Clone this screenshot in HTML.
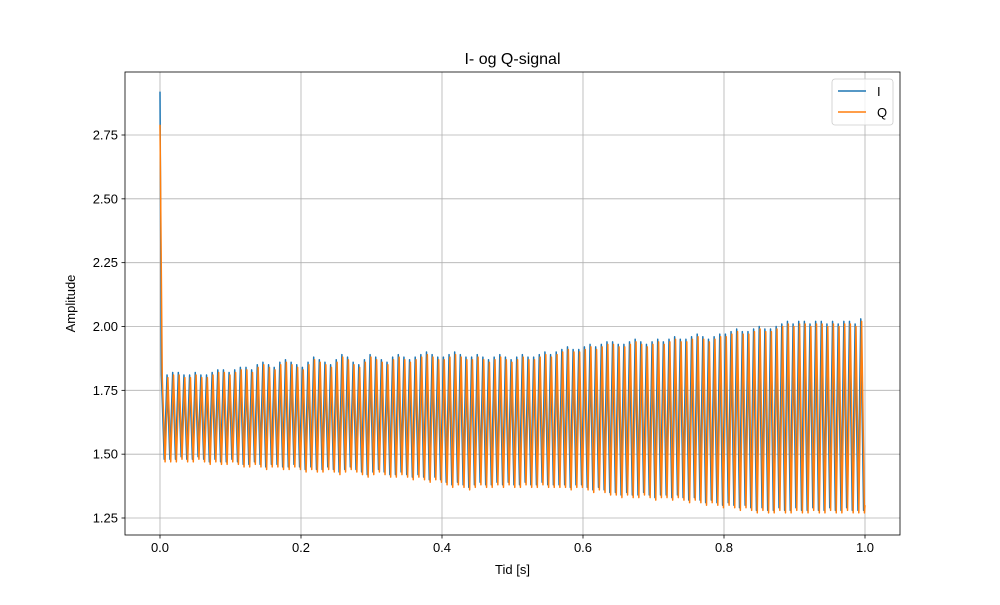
<!DOCTYPE html>
<html><head><meta charset="utf-8"><style>
body{margin:0;background:#fff;font-family:"Liberation Sans","DejaVu Sans",sans-serif}
svg text{font-family:"Liberation Sans","DejaVu Sans",sans-serif}
</style></head><body>
<svg id="chart" width="1000" height="600" xmlns="http://www.w3.org/2000/svg">
<rect width="1000" height="600" fill="#fff"/>
<g id="grid"></g><g id="series"></g><g id="axes"></g>
</svg>
<script>
const xTicks=[0,0.2,0.4,0.6,0.8,1.0];
const xTickLabels=["0.0","0.2","0.4","0.6","0.8","1.0"];
const yTicks=[1.25,1.5,1.75,2.0,2.25,2.5,2.75];
const yTickLabels=["1.25","1.50","1.75","2.00","2.25","2.50","2.75"];
const spikeStart=[2.92,2.79];
const endValue=[1.28,1.30];
const iPeak=[1.81,1.81,1.82,1.82,1.81,1.81,1.82,1.81,1.81,1.82,1.83,1.83,1.82,1.83,1.84,1.84,1.83,1.85,1.86,1.85,1.84,1.86,1.87,1.86,1.85,1.84,1.86,1.88,1.87,1.86,1.85,1.87,1.89,1.88,1.86,1.85,1.87,1.89,1.88,1.87,1.86,1.88,1.89,1.88,1.87,1.88,1.89,1.90,1.89,1.88,1.88,1.89,1.90,1.89,1.88,1.88,1.89,1.88,1.87,1.88,1.89,1.88,1.87,1.88,1.89,1.88,1.88,1.89,1.90,1.89,1.90,1.91,1.92,1.91,1.91,1.92,1.93,1.92,1.93,1.94,1.94,1.93,1.93,1.94,1.95,1.94,1.93,1.94,1.95,1.94,1.95,1.96,1.95,1.95,1.96,1.97,1.96,1.95,1.96,1.97,1.97,1.98,1.99,1.98,1.98,1.99,2.00,1.99,1.99,2.00,2.01,2.02,2.01,2.02,2.02,2.01,2.02,2.02,2.01,2.02,2.01,2.02,2.02,2.01,2.03];
const iTrough=[1.48,1.48,1.48,1.49,1.48,1.48,1.49,1.48,1.47,1.48,1.47,1.47,1.48,1.47,1.46,1.46,1.47,1.46,1.45,1.46,1.46,1.45,1.45,1.46,1.45,1.44,1.45,1.44,1.44,1.45,1.44,1.43,1.44,1.45,1.44,1.43,1.42,1.43,1.44,1.43,1.42,1.42,1.43,1.42,1.41,1.42,1.41,1.40,1.41,1.40,1.39,1.38,1.39,1.38,1.37,1.38,1.39,1.38,1.38,1.39,1.38,1.39,1.38,1.38,1.39,1.38,1.38,1.39,1.38,1.38,1.38,1.38,1.37,1.38,1.38,1.37,1.36,1.37,1.36,1.35,1.35,1.34,1.35,1.34,1.34,1.35,1.34,1.33,1.34,1.34,1.33,1.34,1.33,1.32,1.33,1.32,1.31,1.32,1.31,1.30,1.31,1.30,1.29,1.30,1.29,1.28,1.29,1.28,1.28,1.29,1.28,1.28,1.29,1.28,1.28,1.29,1.28,1.28,1.29,1.28,1.28,1.29,1.28,1.28,1.28];
const qPeak=[1.80,1.80,1.81,1.81,1.80,1.80,1.81,1.80,1.80,1.81,1.82,1.82,1.81,1.82,1.83,1.83,1.82,1.84,1.85,1.84,1.83,1.85,1.86,1.85,1.84,1.83,1.85,1.87,1.86,1.85,1.84,1.86,1.88,1.87,1.85,1.84,1.86,1.88,1.87,1.86,1.85,1.87,1.88,1.87,1.86,1.87,1.88,1.89,1.88,1.87,1.87,1.88,1.89,1.88,1.87,1.87,1.88,1.87,1.86,1.87,1.88,1.87,1.86,1.87,1.88,1.87,1.87,1.88,1.89,1.88,1.89,1.90,1.91,1.90,1.90,1.91,1.92,1.91,1.92,1.93,1.93,1.92,1.92,1.93,1.94,1.93,1.92,1.93,1.94,1.93,1.94,1.95,1.94,1.94,1.95,1.96,1.95,1.94,1.95,1.96,1.96,1.97,1.98,1.97,1.97,1.98,1.99,1.98,1.98,1.99,2.00,2.01,2.00,2.01,2.01,2.00,2.01,2.01,2.00,2.01,2.00,2.01,2.01,2.00,2.02];
const qTrough=[1.47,1.47,1.47,1.48,1.47,1.47,1.48,1.47,1.46,1.47,1.46,1.46,1.47,1.46,1.45,1.45,1.46,1.45,1.44,1.45,1.45,1.44,1.44,1.45,1.44,1.43,1.44,1.43,1.43,1.44,1.43,1.42,1.43,1.44,1.43,1.42,1.41,1.42,1.43,1.42,1.41,1.41,1.42,1.41,1.40,1.41,1.40,1.39,1.40,1.39,1.38,1.37,1.38,1.37,1.36,1.37,1.38,1.37,1.37,1.38,1.37,1.38,1.37,1.37,1.38,1.37,1.37,1.38,1.37,1.37,1.37,1.37,1.36,1.37,1.37,1.36,1.35,1.36,1.35,1.34,1.34,1.33,1.34,1.33,1.33,1.34,1.33,1.32,1.33,1.33,1.32,1.33,1.32,1.31,1.32,1.31,1.30,1.31,1.30,1.29,1.30,1.29,1.28,1.29,1.28,1.27,1.28,1.27,1.27,1.28,1.27,1.27,1.28,1.27,1.27,1.28,1.27,1.27,1.28,1.27,1.27,1.28,1.27,1.27,1.27];

const L=125,R=900,T=72,B=535;
const xs=t=>160+t*705;
const ys=v=>518-(v-1.25)*(383/1.5);
const NS="http://www.w3.org/2000/svg";
function mk(tag,attrs,parent,txt){const e=document.createElementNS(NS,tag);for(const k in attrs)e.setAttribute(k,attrs[k]);if(txt!==undefined)e.textContent=txt;parent.appendChild(e);return e;}
const grid=document.getElementById('grid'),axes=document.getElementById('axes'),series=document.getElementById('series');
xTicks.forEach((t,i)=>{
 const g=mk('line',{x1:xs(t),x2:xs(t),y1:T,y2:B,stroke:'#b0b0b0','stroke-width':0.8},grid);
 
 
 mk('line',{x1:xs(t),x2:xs(t),y1:B,y2:B+3.5,stroke:'#000','stroke-width':0.8},axes);
 const tx=mk('text',{x:xs(t),y:B+17,'font-size':13,'text-anchor':'middle',fill:'#000'},axes,xTickLabels[i]);
 
 
});
yTicks.forEach((v,i)=>{
 const g=mk('line',{x1:L,x2:R,y1:ys(v),y2:ys(v),stroke:'#b0b0b0','stroke-width':0.8},grid);
 
 
 mk('line',{x1:L-3.5,x2:L,y1:ys(v),y2:ys(v),stroke:'#000','stroke-width':0.8},axes);
 const tx=mk('text',{x:L-7,y:ys(v)+4.5,'font-size':13,'text-anchor':'end',fill:'#000'},axes,yTickLabels[i]);
 
 
});
function buildPath(pk,tr,start,end,pOff,tOff){
 const n=pk.length;let d='M'+xs(0).toFixed(2)+','+ys(start).toFixed(2);
 for(let k=0;k<n;k++){
  d+='L'+xs((k+pOff)/n).toFixed(2)+','+ys(pk[k]).toFixed(2);
  d+='L'+xs((k+tOff)/n).toFixed(2)+','+ys(tr[k]).toFixed(2);
 }
 d+='L'+xs(1).toFixed(2)+','+ys(end).toFixed(2);return d;
}
const pi=mk('path',{d:buildPath(iPeak,iTrough,spikeStart[0],endValue[0],0.25,0.75),fill:'none',stroke:'#1f77b4','stroke-width':1.5,'stroke-linejoin':'round'},series);


const pq=mk('path',{d:buildPath(qPeak,qTrough,spikeStart[1],endValue[1],0.4,0.9),fill:'none',stroke:'#ff7f0e','stroke-width':1.5,'stroke-linejoin':'round'},series);


const fr=mk('rect',{x:L,y:T,width:R-L,height:B-T,fill:'none',stroke:'#000','stroke-width':0.8},axes);


const ti=mk('text',{x:512.5,y:64,'font-size':16,'text-anchor':'middle'},axes,'I- og Q-signal');


const xl=mk('text',{x:512.5,y:574,'font-size':13,'text-anchor':'middle'},axes,'Tid [s]');


const yl=mk('text',{x:75,y:303.5,'font-size':13,'text-anchor':'middle',transform:'rotate(-90 75 303.5)'},axes,'Amplitude');


const lg=mk('g',{},axes);


mk('rect',{x:832,y:79,width:61,height:46,rx:3,fill:'#fff','fill-opacity':0.8,stroke:'#ccc','stroke-width':0.8},lg);
const e1=mk('g',{},lg);


mk('line',{x1:838,x2:866,y1:91,y2:91,stroke:'#1f77b4','stroke-width':1.5},e1);
mk('text',{x:877,y:96,'font-size':13},e1,'I');
const e2=mk('g',{},lg);


mk('line',{x1:838,x2:866,y1:112,y2:112,stroke:'#ff7f0e','stroke-width':1.5},e2);
mk('text',{x:877,y:117,'font-size':13},e2,'Q');
</script>
</body></html>
